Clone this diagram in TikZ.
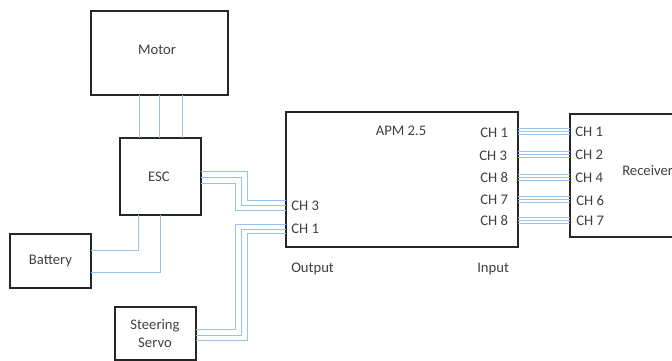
\documentclass[tikz,border=0pt]{standalone}
\usepackage{fontspec}
\setmainfont{Carlito}
\usetikzlibrary{calc}
\definecolor{wirecol}{RGB}{150,194,236}
\definecolor{txtcol}{RGB}{64,64,64}
\tikzset{
  blockbox/.style={draw=black!85,line width=1.5pt,anchor=north west,inner sep=0pt,outer sep=0pt,text=txtcol,align=center,font=\fontsize{11}{13}\selectfont},
  wire/.style={draw=wirecol,line width=1.4pt,line join=miter},
  lab/.style={text=txtcol,inner sep=0pt,font=\fontsize{11}{13}\selectfont},
}
\begin{document}
\begin{tikzpicture}[x=0.75pt,y=-0.75pt]
\useasboundingbox (0,0) rectangle (672,361);
\begin{scope}
\clip (0,0) rectangle (672,361);
% column and row guides for connectors
\coordinate (m1) at (139.5,0); \coordinate (m2) at (159.5,0); \coordinate (m3) at (182.5,0);
\coordinate (b1) at (138.5,0); \coordinate (b2) at (160.5,0);
\coordinate (v1) at (235.5,0); \coordinate (v2) at (241.5,0); \coordinate (v3) at (247.5,0);
\coordinate (e1) at (0,171.5); \coordinate (e2) at (0,177.5); \coordinate (e3) at (0,183.5);
\coordinate (a1) at (0,200.5); \coordinate (a2) at (0,205.5); \coordinate (a3) at (0,210.5);
\coordinate (c1) at (0,224.5); \coordinate (c2) at (0,229.5); \coordinate (c3) at (0,233.5);
\coordinate (s1) at (0,329.5); \coordinate (s2) at (0,335.5); \coordinate (s3) at (0,340.5);
\coordinate (t1) at (0,250.5); \coordinate (t2) at (0,272.5);
\node[blockbox,minimum width=102.75pt,minimum height=63pt] (motor) at (91,11) {};
\node[blockbox,minimum width=60.75pt,minimum height=57.75pt] (esc) at (119.5,138) {};
\node[blockbox,minimum width=60.75pt,minimum height=40.5pt] (battery) at (10,233.5) {Battery};
\node[blockbox,minimum width=60.75pt,minimum height=39.75pt] (servo) at (114.5,307) {Steering\\Servo};
\node[blockbox,minimum width=174pt,minimum height=101.25pt] (apm) at (286,112) {};
\node[blockbox,minimum width=90pt,minimum height=92.25pt] (rx) at (570,114) {};
\foreach \c in {m1,m2,m3}
  \draw[wire] (motor.south -| \c) -- (esc.north -| \c);
\foreach \s/\v/\t in {e1/v3/a1,e2/v2/a2,e3/v1/a3}
  \draw[wire] (esc.east |- \s) -- (\v |- \s) -- (\v |- \t) -- (apm.west |- \t);
\foreach \s/\v/\t in {s1/v1/c1,s2/v2/c2,s3/v3/c3}
  \draw[wire] (servo.east |- \s) -- (\v |- \s) -- (\v |- \t) -- (apm.west |- \t);
\draw[wire] (esc.south -| b1) -- (b1 |- t1) -- (battery.east |- t1);
\draw[wire] (esc.south -| b2) -- (b2 |- t2) -- (battery.east |- t2);
\foreach \y in {131.5,154.5,177.5,199.5,220.5}
  \foreach \d in {-3,0,3}
    \draw[wire] ($(apm.east |- 0,\y)+(0,\d)$) -- ($(rx.west |- 0,\y)+(0,\d)$);
% labels
\node[lab] (motl) at (157,50) {Motor};
\node[lab] (escl) at (159,177) {ESC};
\node[lab] (apmt) at (401,131) {APM 2.5};
\node[lab,anchor=west] (o3) at (291,205.5) {CH 3};
\node[lab,anchor=west] (o1) at (291,229) {CH 1};
\node[lab,anchor=west] (outl) at (291,268.5) {Output};
\node[lab,anchor=west] (inl) at (477,269) {Input};
\node[lab,anchor=west] (i1) at (480,132.5) {CH 1};
\node[lab,anchor=west] (i2) at (479,155.5) {CH 3};
\node[lab,anchor=west] (i3) at (480,177.5) {CH 8};
\node[lab,anchor=west] (i4) at (480,199.5) {CH 7};
\node[lab,anchor=west] (i5) at (480,220.5) {CH 8};
\node[lab,anchor=west] (r1) at (575,131.5) {CH 1};
\node[lab,anchor=west] (r2) at (575,155) {CH 2};
\node[lab,anchor=west] (r3) at (575,178) {CH 4};
\node[lab,anchor=west] (r4) at (576,200.5) {CH 6};
\node[lab,anchor=west] (r5) at (576,220.5) {CH 7};
\node[lab,anchor=west] (rxl) at (622,170.5) {Receiver};
\end{scope}
\end{tikzpicture}
\end{document}
